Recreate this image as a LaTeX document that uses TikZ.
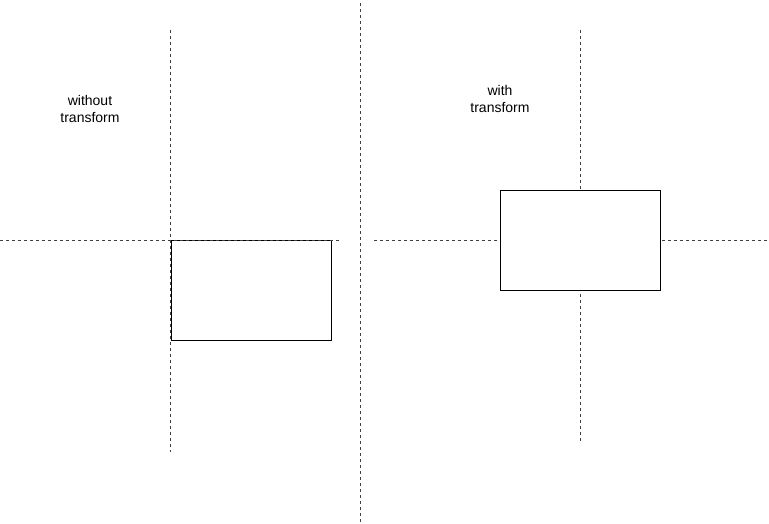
\documentclass[tikz,border=0pt]{standalone}
\usepackage{fontspec}
\setmainfont{Liberation Sans}

\begin{document}
\begin{tikzpicture}[x=0.75pt,y=-0.75pt,line cap=butt,line join=miter]
  \tikzset{
    guide/.style={draw=black!75,line width=0.75pt,dash pattern=on 2.25pt off 2.25pt},
    frame/.style={draw=black,line width=0.75pt,minimum width=120pt,minimum height=75pt,inner sep=0pt},
    caption/.style={align=center,font=\fontsize{10.5}{12.5}\selectfont,inner sep=0pt}
  }

  % page size
  \useasboundingbox (0,0) rectangle (769,524);

  % divider between the two halves
  \coordinate (divtop) at (360.5,3);
  \coordinate (divbot) at (360.5,522);
  \draw[guide] (divtop) -- (divbot);

  % left half: without transform
  \coordinate (lvtop) at (170.5,30);
  \coordinate (lvbot) at (170.5,452);
  \coordinate (lhleft) at (0,240.5);
  \coordinate (lhright) at (340,240.5);
  \node[frame,anchor=north west] (plainbox) at (170.5,240.5) {};
  \draw[guide] (lvtop) -- (lvbot);
  \draw[guide] (lhleft) -- (lhright);
  \node[caption] (plainlabel) at (90,109) {without\\transform};

  % right half: with transform
  \coordinate (rvtop) at (580.5,30);
  \coordinate (rvbot) at (580.5,442);
  \coordinate (rhleft) at (374,240.5);
  \coordinate (rhright) at (767,240.5);
  \draw[guide] (rvtop) -- (rvbot);
  \draw[guide] (rhleft) -- (rhright);
  \node[frame,fill=white] (movedbox) at (580.5,240.5) {};
  \node[caption] (movedlabel) at (500,99) {with\\transform};
\end{tikzpicture}
\end{document}
